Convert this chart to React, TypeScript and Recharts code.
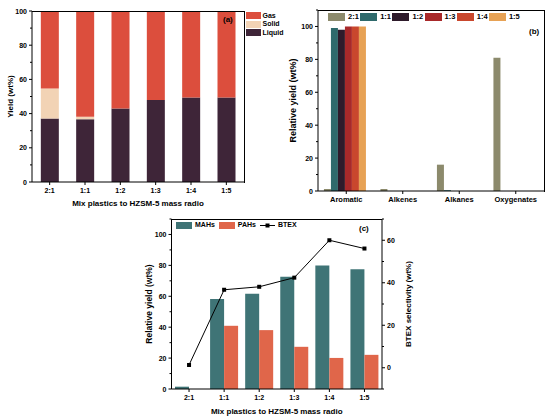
import React from 'react';
import { ComposedChart, Bar, Line, XAxis, YAxis, Legend, Label } from 'recharts';

const FONT = '"Liberation Sans", Arial, Helvetica, sans-serif';

// ---------- Panel (a) ----------
const ratios = ['2:1', '1:1', '1:2', '1:3', '1:4', '1:5'];
const liquidYield = [37.1, 36.7, 43, 47.9, 49.4, 49.4];
const solidYield = [17.6, 1.4, 0, 0, 0, 0];
const gasYield = [45.3, 61.9, 57, 52.1, 50.6, 50.6];
const legendOrderA = ['Gas', 'Solid', 'Liquid'];

// ---------- Panel (b) ----------
const productClasses = ['Aromatic', 'Alkenes', 'Alkanes', 'Oxygenates'];
const rel21 = [1.2, 1.2, 16, 81];
const rel11 = [99, 0, 0.5, 0];
const rel12 = [98, 0, 0, 0];
const rel13 = [100, 0, 0, 0];
const rel14 = [100, 0, 0, 0];
const rel15 = [100, 0, 0, 0];
const legendOrderB = ['2:1', '1:1', '1:2', '1:3', '1:4', '1:5'];

// ---------- Panel (c) ----------
const mahs = [1.5, 58.3, 61.7, 72.7, 79.9, 77.5];
const pahs = [0, 40.9, 38.1, 27.3, 20.1, 22.1];
const btex = [1.3, 36.7, 38.1, 42.4, 60, 56.1];
const legendOrderC = ['MAHs', 'PAHs', 'BTEX'];

const ticksA = [0, 10, 20, 30, 40, 50, 60, 70, 80, 90, 100];
const ticksB = [0, 10, 20, 30, 40, 50, 60, 70, 80, 90, 100, 110];
const ticksCLeft = [0, 10, 20, 30, 40, 50, 60, 70, 80, 90, 100, 110];
const ticksCRight = [-10, 0, 10, 20, 30, 40, 50, 60, 70];

const C = {
  gas: '#dc4e3d',
  solid: '#f2d3b5',
  liquid: '#3e2538',
  r21: '#8c8a6c',
  r11: '#2f6a6c',
  r12: '#2e1b2b',
  r13: '#a8292a',
  r14: '#c9472d',
  r15: '#e7a255',
  mah: '#3f7476',
  pah: '#e0664a',
};

const dataA = ratios.map((r, i) => ({ cat: r, Liquid: liquidYield[i], Solid: solidYield[i], Gas: gasYield[i] }));
const dataB = productClasses.map((c, i) => ({
  cat: c,
  s21: rel21[i],
  s11: rel11[i],
  s12: rel12[i],
  s13: rel13[i],
  s14: rel14[i],
  s15: rel15[i],
}));
const dataC = ratios.map((r, i) => ({ cat: r, MAHs: mahs[i], PAHs: pahs[i], BTEX: btex[i] }));

const makeYTick = (side: 'left' | 'right') => (props: any) => {
  const { x, y, payload } = props;
  const v = Number(payload.value);
  const major = v % 20 === 0;
  const len = major ? 3 : 2;
  const dir = side === 'left' ? -1 : 1;
  return (
    <g>
      <line x1={x} x2={x + dir * len} y1={y} y2={y} stroke="#000" strokeWidth={1} />
      {major && (
        <text
          x={x + dir * (len + 2)}
          y={y}
          dy="0.36em"
          textAnchor={side === 'left' ? 'end' : 'start'}
          fontSize={7}
          fontWeight="bold"
          fontFamily={FONT}
          fill="#000"
        >
          {v}
        </text>
      )}
    </g>
  );
};

const makeXTick = (size: number) => (props: any) => {
  const { x, y, payload } = props;
  return (
    <g>
      <line x1={x} x2={x} y1={y} y2={y + 3} stroke="#000" strokeWidth={1} />
      <text x={x} y={y + 10.5} textAnchor="middle" fontSize={size} fontWeight="bold" fontFamily={FONT} fill="#000">
        {payload.value}
      </text>
    </g>
  );
};

const yTitle = (text: string, x: number, size: number) => (props: any) => {
  const vb = props.viewBox || {};
  const cy = vb.y + vb.height / 2;
  return (
    <text
      x={x}
      y={cy}
      transform={`rotate(-90 ${x} ${cy})`}
      textAnchor="middle"
      dominantBaseline="central"
      fontSize={size}
      fontWeight="bold"
      fontFamily={FONT}
      fill="#000"
    >
      {text}
    </text>
  );
};

const xTitle = (text: string, dy: number, size: number) => (props: any) => {
  const vb = props.viewBox || {};
  const cx = vb.x + vb.width / 2;
  return (
    <text x={cx} y={vb.y + dy} textAnchor="middle" fontSize={size} fontWeight="bold" fontFamily={FONT} fill="#000">
      {text}
    </text>
  );
};

const legendText: React.CSSProperties = {
  fontFamily: FONT,
  fontWeight: 'bold',
  fontSize: 7,
  color: '#000',
  lineHeight: '8px',
  whiteSpace: 'nowrap',
};

const ordered = (payload: any[], order: string[]) =>
  [...(payload || [])].sort((a, b) => order.indexOf(a.value) - order.indexOf(b.value));

const LegendA = (props: any) => {
  const items = ordered(props.payload, legendOrderA);
  return (
    <div>
      {items.map((e: any) => (
        <div key={e.value} style={{ display: 'flex', alignItems: 'center', height: 8.5 }}>
          <div style={{ width: 15, height: 7, background: e.color, marginRight: 2 }} />
          <span style={legendText}>{e.value}</span>
        </div>
      ))}
    </div>
  );
};

const LegendB = (props: any) => {
  const items = ordered(props.payload, legendOrderB);
  return (
    <div style={{ display: 'flex', alignItems: 'center' }}>
      {items.map((e: any) => (
        <div key={e.value} style={{ display: 'flex', alignItems: 'center', width: 32.2 }}>
          <div style={{ width: 17, height: 8, background: e.color, marginRight: 3 }} />
          <span style={{ ...legendText, fontSize: 7.5 }}>{e.value}</span>
        </div>
      ))}
    </div>
  );
};

const LegendC = (props: any) => {
  const items = ordered(props.payload, legendOrderC);
  return (
    <div style={{ display: 'flex', alignItems: 'center' }}>
      {items.map((e: any) => (
        <div key={e.value} style={{ display: 'flex', alignItems: 'center', marginRight: 4 }}>
          {e.type === 'line' ? (
            <svg width={15} height={7} style={{ marginRight: 3 }}>
              <line x1={0} x2={15} y1={3.5} y2={3.5} stroke="#000" strokeWidth={1} />
              <rect x={5.5} y={1.5} width={4} height={4} fill="#000" />
            </svg>
          ) : (
            <div style={{ width: 16, height: 7, background: e.color, marginRight: 3 }} />
          )}
          <span style={legendText}>{e.value}</span>
        </div>
      ))}
    </div>
  );
};

const SquareDot = (props: any) => {
  const { cx, cy, index } = props;
  if (cx == null || cy == null) return <g key={`d${index}`} />;
  return <rect key={`d${index}`} x={cx - 2} y={cy - 2} width={4} height={4} fill="#000" />;
};

const panelLabel = (left: number, top: number): React.CSSProperties => ({
  position: 'absolute',
  left,
  top,
  fontFamily: FONT,
  fontWeight: 'bold',
  fontSize: 8,
  lineHeight: '8px',
  color: '#000',
});

// frame (plot box edges not covered by an axis)
const frame = (left: number, top: number, width: number, height: number, right: boolean): React.CSSProperties => ({
  position: 'absolute',
  left,
  top,
  width,
  height,
  borderTop: '1px solid #000',
  borderRight: right ? '1px solid #000' : 'none',
  boxSizing: 'border-box',
  pointerEvents: 'none',
});

const axisLine = { stroke: '#000', strokeWidth: 1 };

export default function App() {
  return (
    <div style={{ position: 'absolute', left: 0, top: 0, width: 550, height: 419, background: '#fff', overflow: 'hidden' }}>
      {/* Panel (a) */}
      <div style={{ position: 'absolute', left: 0, top: 0 }}>
        <ComposedChart width={290} height={215} data={dataA} margin={{ top: 11, right: 46, bottom: 0, left: 0 }} barCategoryGap="25%">
          <XAxis
            dataKey="cat"
            height={33}
            axisLine={axisLine}
            tickLine={false}
            tickSize={0}
            tickMargin={0}
            tick={makeXTick(7)}
            interval={0}
            label={<Label content={xTitle('Mix plastics to HZSM-5 mass radio', 23.5, 8)} />}
          />
          <YAxis
            type="number"
            domain={[0, 100]}
            ticks={ticksA}
            interval={0}
            width={32}
            axisLine={axisLine}
            tickLine={false}
            tickSize={0}
            tickMargin={0}
            tick={makeYTick('left')}
            label={<Label content={yTitle('Yield (wt%)', 10, 8)} />}
          />
          <Bar dataKey="Liquid" name="Liquid" stackId="s" fill={C.liquid} isAnimationActive={false} />
          <Bar dataKey="Solid" name="Solid" stackId="s" fill={C.solid} isAnimationActive={false} />
          <Bar dataKey="Gas" name="Gas" stackId="s" fill={C.gas} isAnimationActive={false} />
          <Legend
            layout="horizontal"
            verticalAlign="middle"
            align="center"
            wrapperStyle={{ left: 245.5, top: 11.5, width: 44, height: 26 }}
            content={(p: any) => <LegendA payload={p.payload} />}
          />
        </ComposedChart>
        <div style={frame(31.5, 10.5, 213, 172, true)} />
        <div style={panelLabel(223, 16)}>(a)</div>
      </div>

      {/* Panel (b) */}
      <div style={{ position: 'absolute', left: 275, top: 0 }}>
        <ComposedChart width={275} height={215} data={dataB} margin={{ top: 10, right: 6, bottom: 0, left: 0 }} barCategoryGap="10.5%" barGap={0}>
          <XAxis
            dataKey="cat"
            height={24}
            axisLine={axisLine}
            tickLine={false}
            tickSize={0}
            tickMargin={0}
            tick={makeXTick(7.5)}
            interval={0}
          />
          <YAxis
            type="number"
            domain={[0, 110]}
            ticks={ticksB}
            interval={0}
            width={43}
            axisLine={axisLine}
            tickLine={false}
            tickSize={0}
            tickMargin={0}
            tick={makeYTick('left')}
            label={<Label content={yTitle('Relative yield (wt%)', 18, 9)} />}
          />
          <Bar dataKey="s21" name="2:1" fill={C.r21} isAnimationActive={false} />
          <Bar dataKey="s11" name="1:1" fill={C.r11} isAnimationActive={false} />
          <Bar dataKey="s12" name="1:2" fill={C.r12} isAnimationActive={false} />
          <Bar dataKey="s13" name="1:3" fill={C.r13} isAnimationActive={false} />
          <Bar dataKey="s14" name="1:4" fill={C.r14} isAnimationActive={false} />
          <Bar dataKey="s15" name="1:5" fill={C.r15} isAnimationActive={false} />
          <Legend
            layout="horizontal"
            verticalAlign="middle"
            align="center"
            wrapperStyle={{ left: 53, top: 12.5, width: 200, height: 9 }}
            content={(p: any) => <LegendB payload={p.payload} />}
          />
        </ComposedChart>
        <div style={frame(42.5, 9.5, 227, 182, true)} />
        <div style={panelLabel(254, 28)}>(b)</div>
      </div>

      {/* Panel (c) */}
      <div style={{ position: 'absolute', left: 130, top: 210 }}>
        <ComposedChart width={290} height={209} data={dataC} margin={{ top: 9, right: 0, bottom: 0, left: 0 }} barCategoryGap="10%" barGap={0}>
          <XAxis
            dataKey="cat"
            height={30}
            axisLine={axisLine}
            tickLine={false}
            tickSize={0}
            tickMargin={0}
            tick={makeXTick(7)}
            interval={0}
            label={<Label content={xTitle('Mix plastics to HZSM-5 mass radio', 24.5, 8)} />}
          />
          <YAxis
            yAxisId="left"
            type="number"
            domain={[0, 110]}
            ticks={ticksCLeft}
            interval={0}
            width={41.5}
            axisLine={axisLine}
            tickLine={false}
            tickSize={0}
            tickMargin={0}
            tick={makeYTick('left')}
            label={<Label content={yTitle('Relative yield (wt%)', 19, 8.5)} />}
          />
          <YAxis
            yAxisId="right"
            orientation="right"
            type="number"
            domain={[-10, 70]}
            ticks={ticksCRight}
            interval={0}
            width={38}
            axisLine={axisLine}
            tickLine={false}
            tickSize={0}
            tickMargin={0}
            tick={makeYTick('right')}
            label={<Label content={yTitle('BTEX selectivity (wt%)', 278, 8)} />}
          />
          <Bar yAxisId="left" dataKey="MAHs" name="MAHs" fill={C.mah} isAnimationActive={false} />
          <Bar yAxisId="left" dataKey="PAHs" name="PAHs" fill={C.pah} isAnimationActive={false} />
          <Line
            yAxisId="right"
            dataKey="BTEX"
            name="BTEX"
            type="linear"
            stroke="#000"
            strokeWidth={1}
            dot={<SquareDot />}
            activeDot={false}
            legendType="line"
            isAnimationActive={false}
          />
          <Legend
            layout="horizontal"
            verticalAlign="middle"
            align="center"
            wrapperStyle={{ left: 46, top: 11, width: 160, height: 8 }}
            content={(p: any) => <LegendC payload={p.payload} />}
          />
        </ComposedChart>
        <div style={frame(41, 8.5, 211, 10, false)} />
        <div style={panelLabel(229, 15)}>(c)</div>
      </div>
    </div>
  );
}
